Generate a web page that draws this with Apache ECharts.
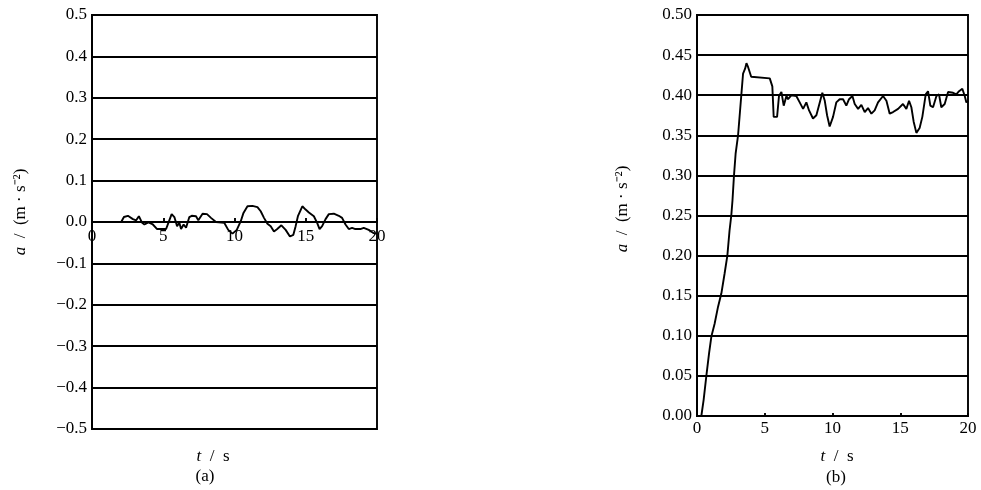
<!DOCTYPE html>
<html>
<head>
<meta charset="utf-8">
<script src="https://cdn.jsdelivr.net/npm/echarts@6/dist/echarts.min.js"></script>
<style>
  html, body { margin: 0; padding: 0; background: #fff; }
  #chart { width: 981px; height: 490px; }
</style>
</head>
<body>
<div id="chart"></div>
<script>
// panel (a): acceleration at rest, t in s, a in m/s^2
var tA = [0, 2.05, 2.24, 2.52, 2.87, 3.1, 3.29, 3.5, 3.68, 3.96, 4.27, 4.57, 5.2, 5.36, 5.59,
  5.78, 5.97, 6.13, 6.25, 6.43, 6.6, 6.83, 7.0, 7.3, 7.46, 7.76, 8.07, 8.35, 8.7, 9.28,
  9.56, 9.86, 10.16, 10.44, 10.63, 10.91, 11.26, 11.61, 11.84, 12.07, 12.31, 12.54, 12.77, 13.0, 13.29,
  13.59, 13.89, 14.13, 14.29, 14.45, 14.76, 14.99, 15.22, 15.57, 15.8, 15.97, 16.15, 16.39, 16.62, 16.97,
  17.32, 17.55, 17.79, 18.02, 18.25, 18.48, 18.83, 19.07, 19.42, 19.77, 20];
var aA = [0, 0, 0.012, 0.015, 0.007, 0.004, 0.014, -0.001, -0.006, -0.001, -0.006, -0.017, -0.017, -0.002, 0.019,
  0.012, -0.010, -0.002, -0.017, -0.006, -0.014, 0.012, 0.015, 0.014, 0.004, 0.020, 0.019, 0.010, 0, -0.002,
  -0.019, -0.028, -0.019, 0.002, 0.022, 0.038, 0.039, 0.036, 0.026, 0.010, -0.004, -0.010, -0.023, -0.017, -0.008,
  -0.019, -0.035, -0.031, -0.010, 0.014, 0.038, 0.030, 0.023, 0.014, -0.002, -0.017, -0.010, 0.007, 0.019, 0.020,
  0.015, 0.010, -0.006, -0.017, -0.014, -0.017, -0.017, -0.014, -0.019, -0.027, -0.028];

// panel (b): acceleration when starting
var tB = [0, 0.32, 0.49, 0.69, 0.89, 1.06, 1.3, 1.55, 1.8, 2.04, 2.24, 2.4, 2.53, 2.62, 2.73,
  2.85, 3.03, 3.15, 3.27, 3.4, 3.55, 3.65, 3.75, 4.0, 5.37, 5.56, 5.66, 5.91, 6.05, 6.23,
  6.4, 6.6, 6.72, 6.97, 7.33, 7.58, 7.83, 8.07, 8.27, 8.56, 8.81, 9.06, 9.25, 9.43, 9.6,
  9.79, 10.04, 10.28, 10.53, 10.78, 11.02, 11.22, 11.47, 11.64, 11.89, 12.13, 12.38, 12.62, 12.87, 13.11,
  13.36, 13.73, 13.98, 14.22, 14.47, 14.84, 15.2, 15.45, 15.65, 15.82, 15.99, 16.19, 16.43, 16.63, 16.88,
  17.05, 17.22, 17.42, 17.67, 17.86, 18.03, 18.28, 18.53, 18.9, 19.14, 19.34, 19.58, 19.76, 19.88, 20];
var aB = [0, 0, 0.02, 0.05, 0.078, 0.099, 0.115, 0.136, 0.153, 0.178, 0.20, 0.231, 0.25, 0.269, 0.30,
  0.327, 0.35, 0.375, 0.40, 0.427, 0.433, 0.44, 0.436, 0.423, 0.421, 0.411, 0.373, 0.373, 0.399, 0.404,
  0.387, 0.399, 0.395, 0.40, 0.399, 0.391, 0.383, 0.391, 0.381, 0.371, 0.375, 0.391, 0.403, 0.393, 0.375,
  0.361, 0.373, 0.391, 0.395, 0.395, 0.387, 0.395, 0.399, 0.389, 0.383, 0.388, 0.379, 0.384, 0.377, 0.381,
  0.391, 0.399, 0.393, 0.377, 0.379, 0.383, 0.389, 0.383, 0.393, 0.385, 0.367, 0.353, 0.359, 0.373, 0.401,
  0.405, 0.387, 0.385, 0.399, 0.401, 0.385, 0.389, 0.404, 0.403, 0.401, 0.405, 0.408, 0.399, 0.391, 0.393];

var font = 'Liberation Serif';
var ink = '#000';

function pairs(xs, ys) {
  return xs.map(function(x, i) { return [x, ys[i]]; });
}
function signed(v, digits) {
  var s = Math.abs(v).toFixed(digits);
  return v < -1e-9 ? '\u2212' + s : s;
}

var labelStyle = { color: ink, fontFamily: font, fontSize: 17 };
var lineLook = { color: ink, width: 1.9 };

var yName = '{i|a}  /  (m \u00b7 s\u207b\u00b2)';
var nameRich = { i: { fontStyle: 'italic', fontFamily: font, fontSize: 17, color: ink } };

var chart = echarts.init(document.getElementById('chart'), null, { renderer: 'canvas' });

chart.setOption({
  animation: false,
  backgroundColor: '#fff',
  grid: [
    { left: 92, top: 15, width: 285, height: 414, show: true, borderColor: ink, borderWidth: 1.9, backgroundColor: 'transparent' },
    { left: 697, top: 15, width: 271, height: 401, show: true, borderColor: ink, borderWidth: 1.9, backgroundColor: 'transparent' }
  ],
  xAxis: [
    {
      // panel (a) has its t axis on the zero line, shifted up by half the plot height
      type: 'value', gridIndex: 0, min: 0, max: 20, interval: 5, offset: -207,
      axisLine: { onZero: false, lineStyle: lineLook },
      axisTick: { show: true, inside: true, length: 4, lineStyle: lineLook },
      axisLabel: Object.assign({ margin: 6 }, labelStyle),
      splitLine: { show: false }
    },
    {
      type: 'value', gridIndex: 1, min: 0, max: 20, interval: 5,
      axisLine: { lineStyle: lineLook },
      axisTick: { show: true, inside: true, length: 3, lineStyle: lineLook },
      axisLabel: Object.assign({ margin: 4 }, labelStyle),
      splitLine: { show: false }
    }
  ],
  yAxis: [
    {
      type: 'value', gridIndex: 0, min: -0.5, max: 0.5, interval: 0.1,
      axisLine: { show: true, lineStyle: lineLook },
      axisTick: { show: false },
      axisLabel: Object.assign({ margin: 5, formatter: function(v) { return signed(v, 1); } }, labelStyle),
      splitLine: { show: true, lineStyle: lineLook },
      name: yName, nameLocation: 'middle', nameRotate: 90, nameGap: 63,
      nameTextStyle: { color: ink, fontFamily: font, fontSize: 17, padding: [0, 0, 0, 20], rich: nameRich }
    },
    {
      type: 'value', gridIndex: 1, min: 0, max: 0.5, interval: 0.05,
      axisLine: { show: true, lineStyle: lineLook },
      axisTick: { show: false },
      axisLabel: Object.assign({ margin: 5, formatter: function(v) { return signed(v, 2); } }, labelStyle),
      splitLine: { show: true, lineStyle: lineLook },
      name: yName, nameLocation: 'middle', nameRotate: 90, nameGap: 66,
      nameTextStyle: { color: ink, fontFamily: font, fontSize: 17, padding: [0, 0, 0, 13], rich: nameRich }
    }
  ],
  graphic: [
    { type: 'text', x: 213, y: 457, style: { text: '{i|t}  /  s', rich: nameRich, font: '17px "Liberation Serif"', fill: ink, align: 'center', verticalAlign: 'middle' } },
    { type: 'text', x: 205, y: 477, style: { text: '(a)', font: '17px "Liberation Serif"', fill: ink, align: 'center', verticalAlign: 'middle' } },
    { type: 'text', x: 837, y: 457, style: { text: '{i|t}  /  s', rich: nameRich, font: '17px "Liberation Serif"', fill: ink, align: 'center', verticalAlign: 'middle' } },
    { type: 'text', x: 836, y: 478, style: { text: '(b)', font: '17px "Liberation Serif"', fill: ink, align: 'center', verticalAlign: 'middle' } }
  ],
  series: [
    {
      type: 'line', xAxisIndex: 0, yAxisIndex: 0, data: pairs(tA, aA),
      showSymbol: false, lineStyle: { color: ink, width: 1.9 }, clip: true
    },
    {
      type: 'line', xAxisIndex: 1, yAxisIndex: 1, data: pairs(tB, aB),
      showSymbol: false, lineStyle: { color: ink, width: 1.9 }, clip: true
    }
  ]
});

window.addEventListener('resize', function() { chart.resize(); });
</script>
</body>
</html>
